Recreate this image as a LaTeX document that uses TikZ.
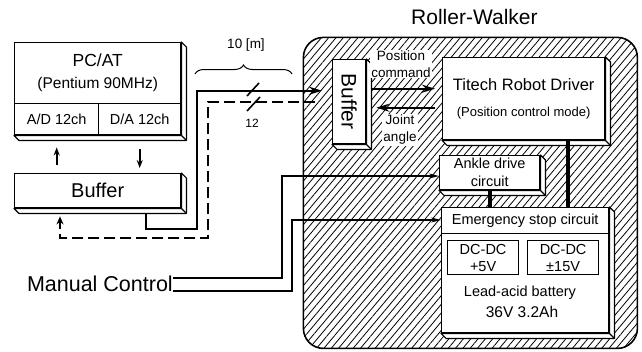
\documentclass[tikz,border=0pt]{standalone}
\usepackage{fontspec}
\setmainfont{Liberation Sans}
\usetikzlibrary{arrows.meta, positioning, patterns.meta, decorations.pathreplacing}

\begin{document}
\begin{tikzpicture}[
  x=1pt, y=-1pt,
  unit/.style   = {rectangle, draw=black, line width=1.4pt, fill=white, inner sep=0pt,
                   anchor=north west, align=center},
  region/.style = {rectangle, draw=black, line width=1.6pt, rounded corners=20pt, inner sep=0pt,
                   anchor=north west, pattern={Lines[angle=50,distance=5.6pt,line width=0.8pt]}},
  slab/.style   = {draw=black, line width=1.2pt, fill=white, line join=round},
  lbl/.style    = {fill=white, inner sep=1pt, align=center, font=\fontsize{13.5}{17}\selectfont},
  arr/.style    = {-{Stealth[length=8pt,width=6pt]}, line width=1.8pt},
  bus/.style    = {-{Stealth[length=13pt,width=8pt]}, line width=2pt},
  dbus/.style   = {-{Stealth[length=8pt,width=7pt]}, line width=2pt, dash pattern=on 11pt off 5pt},
  sig/.style    = {-{Stealth[length=10pt,width=5pt]}, line width=1.2pt},
  power/.style  = {line width=4pt}
]
\useasboundingbox (0,0) rectangle (642,351);

%% -- Roller-Walker body -------------------------------------------------------
\node[region, minimum width=334pt, minimum height=311pt] (rw) at (303,37) {};
\node[font=\fontsize{21}{24}\selectfont, above=9pt of rw.north, xshift=4pt] (rwname) {Roller-Walker};

%% -- Host side ----------------------------------------------------------------
\node[unit, minimum width=166pt, minimum height=61pt, font=\fontsize{17.5}{22}\selectfont] (pc) at (14,42)
  {PC/AT\\{\fontsize{15.5}{18}\selectfont (Pentium 90MHz)}};
\node[unit, minimum width=84pt, minimum height=31pt, font=\fontsize{14.5}{17}\selectfont] (ad) at (14,103) {A/D 12ch};
\node[unit, minimum width=82pt, minimum height=31pt, font=\fontsize{14.5}{17}\selectfont] (da) at (98,103) {D/A 12ch};
\node[unit, minimum width=166pt, minimum height=34pt, font=\fontsize{20}{24}\selectfont] (buf) at (14,173) {Buffer};

%% -- On-board units -----------------------------------------------------------
\node[unit, minimum width=33pt, minimum height=84pt, font=\fontsize{21}{24}\selectfont] (rbuf) at (332,59)
  {\rotatebox{-90}{Buffer}};
\node[unit, minimum width=162pt, minimum height=82pt, font=\fontsize{16.5}{26}\selectfont] (drv) at (442,57)
  {Titech Robot Driver\\{\fontsize{13}{15}\selectfont (Position control mode)}};
\node[unit, minimum width=100pt, minimum height=34pt, font=\fontsize{14.5}{18}\selectfont] (ankle) at (439,155)
  {Ankle drive\\circuit};
\node[unit, minimum width=167pt, minimum height=26pt, font=\fontsize{14.5}{17}\selectfont] (est) at (441,207)
  {Emergency stop circuit};
\node[unit, minimum width=167pt, minimum height=99pt] (batt) at (441,233) {};
\node[unit, line width=1.2pt, minimum width=71pt, minimum height=34pt, font=\fontsize{14.5}{17}\selectfont] (dc5) at (447,240)
  {DC-DC\\+5V};
\node[unit, line width=1.2pt, minimum width=71pt, minimum height=34pt, font=\fontsize{14.5}{17}\selectfont] (dc15) at (527,240)
  {DC-DC\\±15V};
\node[font=\fontsize{14.5}{17}\selectfont] (lead) at (520,293) {Lead-acid battery};
\node[font=\fontsize{15.5}{18}\selectfont] (cap) at (522,312) {36V 3.2Ah};

%% -- 3-D edges of the boxes ---------------------------------------------------
\foreach \a/\b in {pc/ad, buf/buf, rbuf/rbuf, drv/drv, ankle/ankle, est/batt} {
  \draw[slab] (\a.north east) -- ++(5,5) |- ([shift={(5pt,-5pt)}]\b.south west)
    -- (\b.south west) -- (\a.north east |- \b.south west) -- cycle;
  \draw[slab] (\a.north east |- \b.south west) -- ++(5,5);
}

%% -- Host wiring --------------------------------------------------------------
\draw[arr, shorten <=8pt, shorten >=12pt] (buf.north -| ad.south) -- (ad.south);
\draw[arr, shorten <=14pt, shorten >=5pt] (da.south) -- (da.south |- buf.north);

\coordinate (jA) at (197,229);
\coordinate (jB) at (208,238);
\draw[bus, shorten >=10pt] ([xshift=-35pt,yshift=-5pt]buf.south east) |- (jA) |- ([yshift=11pt]rbuf.west);
\draw[dbus, shorten <=17pt, shorten >=8pt] (rbuf.west) -| (jB) -| ([xshift=46pt]buf.south west);

%% -- Cable marks --------------------------------------------------------------
\draw[line width=1.6pt] (247,96) -- (259,83);
\draw[line width=1.6pt] (247,111) -- (260,97);
\node[font=\fontsize{12}{14}\selectfont] (wires) at (252,123) {12};
\draw[decorate, decoration={brace, amplitude=9pt}, line width=1pt] (195,74) -- (292,74);
\node[font=\fontsize{13.5}{16}\selectfont] (len) at (246,45) {10 [m]};

%% -- Buffer <-> driver --------------------------------------------------------
\draw[bus, shorten <=5pt, shorten >=7pt] ([yshift=13pt]rbuf.east) -- ([yshift=10pt]drv.west);
\draw[bus, shorten <=7pt, shorten >=10pt] ([yshift=-9pt]drv.west) -- ([yshift=-6pt]rbuf.east);
\node[lbl] (poscmd) at (401,64) {Position\\command};
\node[lbl] (joint) at (400,130) {Joint\\angle};

%% -- Power lines --------------------------------------------------------------
\draw[power] ([xshift=-37pt]drv.south east) -- ([xshift=-41pt]est.north east);
\draw[power] (ankle.south) -- (ankle.south |- est.north);

%% -- Manual control -----------------------------------------------------------
\node[font=\fontsize{21.5}{24}\selectfont, anchor=east, inner sep=0pt] (mc) at (173,284) {Manual Control};
\coordinate (jC) at (282,176);
\coordinate (jD) at (292,220);
\draw[sig] ([yshift=6pt]mc.east) -| (jC) -- (jC -| ankle.west);
\draw[sig] ([yshift=-7pt]mc.east) -| (jD) -- (jD -| est.west);

\end{tikzpicture}
\end{document}
